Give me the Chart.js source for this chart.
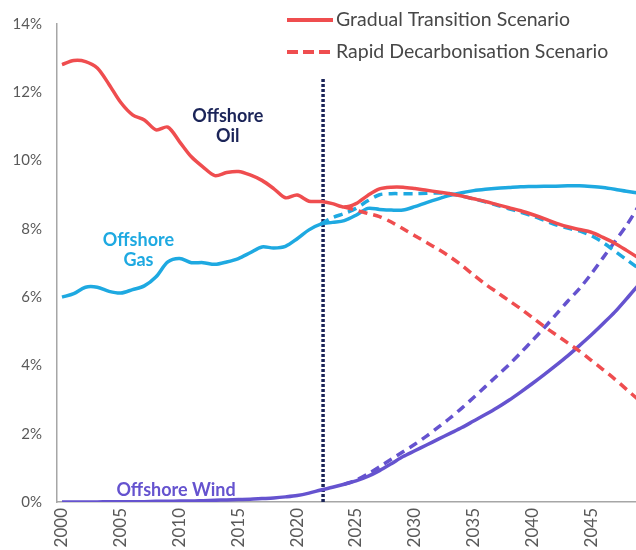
<!DOCTYPE html>
<html>
<head>
<meta charset="utf-8">
<script src="https://cdn.jsdelivr.net/npm/chart.js@4.4.0/dist/chart.umd.min.js"></script>
<style>
  html, body { margin: 0; padding: 0; background: #fff; }
  #wrap { width: 636px; height: 550px; overflow: hidden; position: relative; }
  #wrap canvas { position: absolute; left: 0; top: 0; }
</style>
</head>
<body>
<div id="wrap"><canvas id="chart" width="680" height="570"></canvas></div>
<script>
  'use strict';

  var years = [2000, 2001, 2002, 2003, 2004, 2005, 2006, 2007, 2008, 2009,
    2010, 2011, 2012, 2013, 2014, 2015, 2016, 2017, 2018, 2019,
    2020, 2021, 2022, 2023, 2024, 2025, 2026, 2027, 2028, 2029,
    2030, 2031, 2032, 2033, 2034, 2035, 2036, 2037, 2038, 2039,
    2040, 2041, 2042, 2043, 2044, 2045, 2046, 2047, 2048, 2049, 2050];

  var oilGradual = [12.81, 12.93, 12.90, 12.71, 12.23, 11.70, 11.34, 11.19, 10.90, 10.98,
    10.55, 10.11, 9.81, 9.56, 9.65, 9.68, 9.58, 9.42, 9.18, 8.91,
    8.99, 8.81, 8.80, 8.74, 8.64, 8.74, 8.98, 9.17, 9.22, 9.22,
    9.18, 9.13, 9.08, 9.03, 8.96, 8.88, 8.80, 8.71, 8.62, 8.53,
    8.42, 8.30, 8.17, 8.06, 7.98, 7.90, 7.75, 7.58, 7.37, 7.15, 6.90];

  var oilRapid = [null, null, null, null, null, null, null, null, null, null,
    null, null, null, null, null, null, null, null, null, null,
    null, null, null, null, 8.64, 8.55, 8.45, 8.36, 8.20, 8.00,
    7.80, 7.60, 7.40, 7.18, 6.93, 6.65, 6.38, 6.14, 5.90, 5.66,
    5.40, 5.14, 4.90, 4.66, 4.42, 4.15, 3.88, 3.60, 3.30, 3.00, 2.70];

  var gasGradual = [6.00, 6.10, 6.29, 6.29, 6.17, 6.12, 6.22, 6.33, 6.60, 7.03,
    7.13, 7.01, 7.01, 6.96, 7.03, 7.13, 7.30, 7.47, 7.44, 7.49,
    7.71, 7.97, 8.14, 8.19, 8.24, 8.40, 8.60, 8.57, 8.55, 8.55,
    8.65, 8.77, 8.88, 8.98, 9.06, 9.12, 9.16, 9.19, 9.21, 9.23,
    9.24, 9.25, 9.25, 9.26, 9.26, 9.24, 9.21, 9.16, 9.10, 9.05, 9.00];

  var gasRapid = [null, null, null, null, null, null, null, null, null, null,
    null, null, null, null, null, null, null, null, null, null,
    null, null, 8.14, 8.33, 8.45, 8.60, 8.82, 9.00, 9.03, 9.03,
    9.03, 9.04, 9.05, 9.03, 8.96, 8.88, 8.79, 8.69, 8.59, 8.49,
    8.38, 8.25, 8.12, 8.02, 7.94, 7.80, 7.60, 7.35, 7.10, 6.85, 6.60];

  var windGradual = [0.00, 0.00, 0.00, 0.00, 0.01, 0.01, 0.01, 0.01, 0.02, 0.02,
    0.03, 0.03, 0.04, 0.05, 0.06, 0.07, 0.08, 0.10, 0.12, 0.15,
    0.19, 0.26, 0.35, 0.43, 0.52, 0.62, 0.75, 0.92, 1.12, 1.33,
    1.50, 1.67, 1.84, 2.01, 2.18, 2.37, 2.56, 2.76, 2.98, 3.22,
    3.47, 3.73, 4.00, 4.28, 4.58, 4.89, 5.22, 5.56, 5.95, 6.35, 6.80];

  var windRapid = [null, null, null, null, null, null, null, null, null, null,
    null, null, null, null, null, null, null, null, null, null,
    null, null, null, null, 0.52, 0.64, 0.82, 1.03, 1.25, 1.47,
    1.69, 1.93, 2.19, 2.46, 2.75, 3.06, 3.38, 3.70, 4.02, 4.37,
    4.73, 5.10, 5.49, 5.88, 6.25, 6.68, 7.15, 7.62, 8.10, 8.65, 9.20];

  // today marker
  var markerYear = 2022.2;
  var markerTop = 12.4;

  var RED = '#ef4d4f';
  var BLUE = '#1ea9e1';
  var PURPLE = '#6553cf';
  var NAVY = '#1b2458';
  var AXIS = '#a6a6a6';
  var FONT = 'Lato, "DejaVu Sans", sans-serif';

  function points(values) {
    return years.map(function (yr, i) {
      return { x: yr, y: values[i] };
    });
  }

  function line(label, values, color, dashed) {
    return {
      label: label,
      data: points(values),
      borderColor: color,
      backgroundColor: color,
      borderWidth: 3.5,
      borderDash: dashed ? [9, 6] : [],
      borderCapStyle: 'butt',
      pointRadius: 0,
      tension: 0.3,
      fill: false
    };
  }

  // text labels on the plot, placed in data units
  var seriesLabels = [
    { lines: ['Offshore', 'Oil'], color: NAVY, x: 2014.1, y: 11.29 },
    { lines: ['Offshore', 'Gas'], color: BLUE, x: 2006.5, y: 7.68 },
    { lines: ['Offshore Wind'], color: PURPLE, x: 2009.7, y: 0.35 }
  ];

  var labelPlugin = {
    id: 'seriesLabels',
    afterDatasetsDraw: function (chart) {
      var ctx = chart.ctx;
      var xs = chart.scales.x;
      var ys = chart.scales.y;
      ctx.save();
      ctx.font = 'bold 18px ' + FONT;
      ctx.textAlign = 'center';
      ctx.textBaseline = 'middle';
      seriesLabels.forEach(function (l) {
        var px = xs.getPixelForValue(l.x);
        var py = ys.getPixelForValue(l.y);
        ctx.fillStyle = l.color;
        l.lines.forEach(function (t, i) {
          ctx.fillText(t, px, py + i * 20);
        });
      });
      ctx.restore();
    }
  };

  var legendPlugin = {
    id: 'scenarioLegend',
    afterDraw: function (chart) {
      var ctx = chart.ctx;
      var items = [
        { text: 'Gradual Transition Scenario', dash: [], y: 20 },
        { text: 'Rapid Decarbonisation Scenario', dash: [11, 5], y: 52 }
      ];
      ctx.save();
      ctx.font = '19.5px ' + FONT;
      ctx.textBaseline = 'middle';
      items.forEach(function (it) {
        ctx.beginPath();
        ctx.setLineDash(it.dash);
        ctx.lineWidth = 4;
        ctx.strokeStyle = RED;
        ctx.moveTo(287, it.y);
        ctx.lineTo(333, it.y);
        ctx.stroke();
        ctx.setLineDash([]);
        ctx.fillStyle = '#474747';
        ctx.fillText(it.text, 336, it.y);
      });
      ctx.restore();
    }
  };

  var marker = {
    label: 'Today',
    data: [{ x: markerYear, y: 0 }, { x: markerYear, y: markerTop }],
    borderColor: NAVY,
    borderWidth: 3.5,
    borderDash: [3, 2],
    borderCapStyle: 'butt',
    pointRadius: 0,
    fill: false
  };

  var chart = new Chart(document.getElementById('chart'), {
    type: 'line',
    data: {
      datasets: [
        line('Oil - Gradual', oilGradual, RED, false),
        line('Oil - Rapid', oilRapid, RED, true),
        line('Gas - Gradual', gasGradual, BLUE, false),
        line('Gas - Rapid', gasRapid, BLUE, true),
        line('Wind - Gradual', windGradual, PURPLE, false),
        line('Wind - Rapid', windRapid, PURPLE, true),
        marker
      ]
    },
    options: {
      responsive: false,
      animation: false,
      layout: { padding: { top: 17, right: 25, left: 0, bottom: 0 } },
      plugins: {
        legend: { display: false },
        tooltip: { enabled: false }
      },
      scales: {
        x: {
          type: 'linear',
          min: 1999.575,
          max: 2050.425,
          grid: { display: false, drawTicks: false },
          border: { display: true, color: AXIS, width: 1.5 },
          ticks: {
            stepSize: 5,
            includeBounds: false,
            autoSkip: false,
            minRotation: 90,
            maxRotation: 90,
            padding: 6,
            color: '#595959',
            font: { family: FONT, size: 17 },
            callback: function (v) { return String(v); }
          },
          afterFit: function (s) { s.height = 68; }
        },
        y: {
          min: 0,
          max: 14,
          grid: { display: false, drawTicks: false },
          border: { display: true, color: AXIS, width: 1.5 },
          ticks: {
            stepSize: 2,
            padding: 15,
            color: '#595959',
            font: { family: FONT, size: 15 },
            callback: function (v) { return v + '%'; }
          },
          afterFit: function (s) { s.width = 57; }
        }
      }
    },
    plugins: [labelPlugin, legendPlugin]
  });
</script>
</body>
</html>
